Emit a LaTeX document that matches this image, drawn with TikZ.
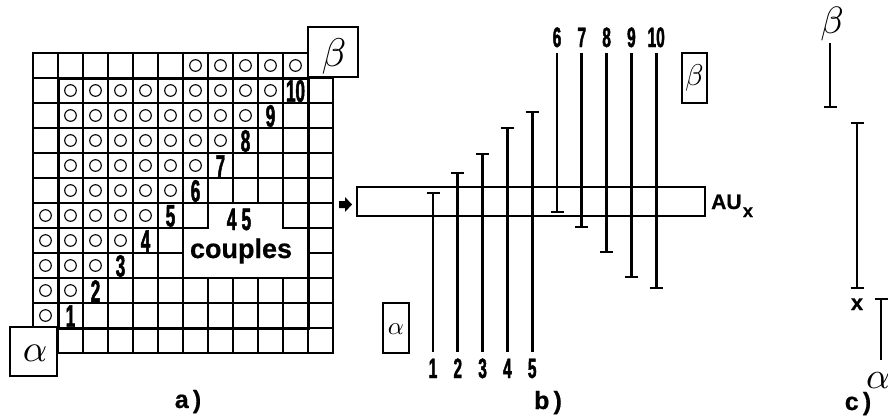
\documentclass[tikz,border=0pt]{standalone}
\usepackage{graphicx}
\usepackage{fontspec}
\newfontfamily\condfont[FakeStretch=0.55,BoldFeatures={FakeBold=1.5}]{Liberation Sans}
\newfontfamily\helv[BoldFeatures={FakeBold=0.6}]{Liberation Sans}
\newcommand{\gk}[2]{\scalebox{#1}{$#2$}}
\begin{document}
\begin{tikzpicture}[x=1pt,y=-1pt,
  gridln/.style={line width=1.3pt, line cap=rect},
  thickln/.style={line width=3pt},
  ring/.style={line width=1.1pt},
  numa/.style={font=\condfont\bfseries\fontsize{31}{31}\selectfont, inner sep=0pt},
  numb/.style={font=\condfont\bfseries\fontsize{28}{28}\selectfont, inner sep=0pt},
  lab/.style={font=\helv\bfseries\fontsize{25}{25}\selectfont, inner sep=0pt},
  gbox/.style={draw, line width=1.3pt, fill=white, inner sep=0pt},
  seg/.style={line width=2.8pt},
  band/.style={draw, line width=1.3pt, inner sep=0pt}]
\useasboundingbox (0,0) rectangle (888,416);

% ---------------- a) grid
\foreach \c in {1,...,11} \draw[gridln] ({33+25*\c},53) -- ({33+25*\c},353);
\draw[gridln] (33,53) -- (33,327);
\draw[gridln] (333,78) -- (333,353);
\draw[gridln] (33,53) -- (308,53);
\foreach \r in {1,...,11} \draw[gridln] (33,{53+25*\r}) -- (333,{53+25*\r});
\draw[gridln] (57,353) -- (333,353);

% cleared area around "45 couples"
\fill[white] (208,203) -- (283,203) -- (283,228) -- (308,228) -- (308,278) -- (183,278) -- (183,228) -- (208,228) -- cycle;
\draw[gridln] (208,203) -- (283,203) -- (283,228) -- (308,228) -- (308,278) -- (183,278) -- (183,228) -- (208,228) -- cycle;

% thick square
\draw[thickln] (58,78) rectangle (308,328);

% circles
\foreach \r/\a/\b in {0/6/10,1/1/9,2/1/8,3/1/7,4/1/6,5/1/5,6/0/4,7/0/3,8/0/2,9/0/1,10/0/0}
  \foreach \c in {\a,...,\b}
    \draw[ring] ({45.5+25*\c},{65.5+25*\r}) circle[radius=5.8pt];

% diagonal numbers
\foreach \n in {1,...,10}
  \node[numa] (na\n) at ({45.5+25*\n},{66+25*(11-\n)}) {\n};

\node[numa, anchor=base] (n45) at (239,230) {4\,5};
\node[font=\helv\bfseries\fontsize{27}{27}\selectfont, inner sep=0pt, anchor=base] (coup) at (241,258) {couples};

% Greek boxes of a)
\node[gbox, minimum width=50pt, minimum height=50pt] (betaA) at (333,52) {};
\node[inner sep=0pt] (betaAt) at (334,56) {\gk{4}{\beta}};
\node[gbox, minimum width=47pt, minimum height=49pt] (alphaA) at (33.5,351.5) {};
\node[inner sep=0pt] (alphaAt) at (35,353) {\gk{3.8}{\alpha}};

\node[lab, anchor=base] (capa) at (188,408) {a\,)};

% ---------------- b)
\node[band, minimum width=348pt, minimum height=29pt] (bandb) at (531,201.5) {};
\fill (339,201) -- (345,201) -- (345,197) -- (352,204.5) -- (345,212) -- (345,208) -- (339,208) -- cycle;
\node[font=\helv\bfseries\fontsize{21}{21}\selectfont, inner sep=0pt, anchor=base west] (au) at (711,209) {AU};
\node[font=\helv\bfseries\fontsize{18}{18}\selectfont, inner sep=0pt, anchor=base west] (aux) at ([xshift=1pt,yshift=-8pt]au.base east) {x};

\foreach \i/\t in {1/193,2/173,3/154,4/128,5/112} {
  \pgfmathsetmacro{\xx}{433+24.8*(\i-1)}
  \draw[seg] (\xx,\t) -- (\xx,352);
  \draw[seg] ({\xx-6.5},\t) -- ({\xx+6.5},\t);
  \node[numb, anchor=base] (nb\i) at (\xx,378) {\i};
}
\foreach \i/\t in {6/212,7/227,8/252,9/277,10/288} {
  \pgfmathsetmacro{\xx}{433+24.8*(\i-1)}
  \draw[seg] (\xx,53) -- (\xx,\t);
  \draw[seg] ({\xx-6.5},\t) -- ({\xx+6.5},\t);
  \node[numb, anchor=base] (nb\i) at (\xx,47) {\i};
}

\node[gbox, minimum width=25pt, minimum height=50pt] (betaB) at (694.5,78) {};
\node[inner sep=0pt] (betaBt) at (694.5,78) {\gk{3}{\beta}};
\node[gbox, minimum width=26pt, minimum height=50pt] (alphaB) at (396,328) {};
\node[inner sep=0pt] (alphaBt) at (396,329) {\gk{2.5}{\alpha}};

\node[lab, anchor=base] (capb) at (548,409) {b\,)};

% ---------------- c)
\node[inner sep=0pt] (betaC) at (832,24) {\gk{3.8}{\beta}};
\draw[seg] (830,43) -- (830,107);
\draw[seg] (823.5,107) -- (836.5,107);
\draw[seg] (857,123) -- (857,288);
\draw[seg] (850.5,123) -- (863.5,123);
\draw[seg] (850.5,288) -- (863.5,288);
\node[font=\helv\bfseries\fontsize{22}{22}\selectfont, inner sep=0pt, anchor=base] (xc) at (857,310) {x};
\draw[seg] (881,299) -- (881,360);
\draw[seg] (874.5,299) -- (887.5,299);
\node[inner sep=0pt, anchor=base west] (alphaC) at (866,388) {\gk{3.7}{\alpha}};
\node[lab, anchor=base] (capc) at (858,410) {c\,)};
\end{tikzpicture}
\end{document}
